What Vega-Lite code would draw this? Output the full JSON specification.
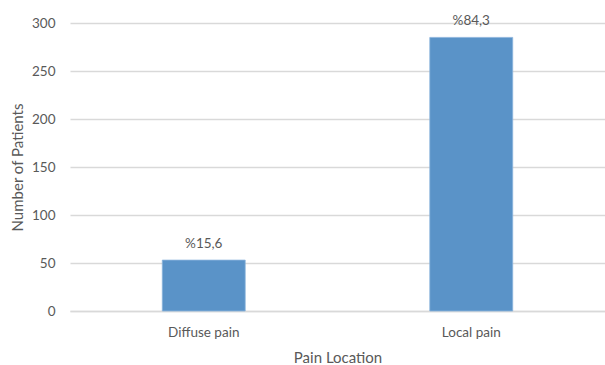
{
  "$schema": "https://vega.github.io/schema/vega-lite/v6.json",
  "width": 535,
  "height": 288,
  "autosize": {"type": "none"},
  "padding": {"left": 70, "top": 23, "right": 0, "bottom": 54},
  "background": "white",
  "config": {
    "view": {"stroke": null},
    "font": "Lato",
    "axis": {"labelColor": "#595959", "titleColor": "#595959", "labelFontSize": 13.5, "titleFontSize": 15, "titleFontWeight": "normal"}
  },
  "data": {
    "values": [
      {"location": "Diffuse pain", "patients": 53, "label": "%15,6"},
      {"location": "Local pain", "patients": 285, "label": "%84,3"}
    ]
  },
  "encoding": {
    "x": {
      "field": "location",
      "type": "nominal",
      "sort": null,
      "scale": {"paddingInner": 0.69, "paddingOuter": 0.345},
      "axis": {"title": "Pain Location", "labelAngle": 0, "ticks": false, "domainColor": "#d9d9d9", "domainWidth": 1.5, "labelPadding": 14, "titlePadding": 12}
    },
    "y": {
      "field": "patients",
      "type": "quantitative",
      "scale": {"domain": [0, 300]},
      "axis": {"title": "Number of Patients", "values": [0, 50, 100, 150, 200, 250, 300], "domain": false, "ticks": false, "labelPadding": 15, "titlePadding": 6, "gridColor": "#d9d9d9", "gridWidth": 1.5}
    }
  },
  "layer": [
    {"mark": {"type": "bar", "color": "#5a93c8", "stroke": "#8ab4dc", "strokeWidth": 0.8}},
    {
      "mark": {"type": "text", "baseline": "bottom", "dy": -9, "fontSize": 13.5, "color": "#595959", "font": "Lato"},
      "encoding": {"text": {"field": "label"}}
    }
  ]
}
